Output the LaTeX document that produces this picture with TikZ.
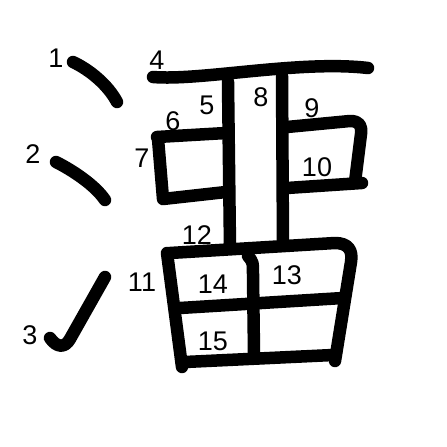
\documentclass[tikz,border=0pt]{standalone}
\usepackage{fontspec}
\setmainfont{Liberation Sans}
\begin{document}
\begin{tikzpicture}[
    x=1pt, y=-1pt,
    stroke/.style={line width=12.5pt, line cap=round, line join=round},
    num/.style={font=\fontsize{27}{27}\selectfont, inner sep=0pt},
]
\useasboundingbox (0,0) rectangle (447,447);

% stroke numbers
\node[num] (n1) at (56,58) {1};
\node[num] (n2) at (33,154) {2};
\node[num] (n3) at (30,335) {3};
\node[num] (n4) at (157,60) {4};
\node[num] (n5) at (207,105) {5};
\node[num] (n6) at (173,121) {6};
\node[num] (n7) at (142,158) {7};
\node[num] (n8) at (261,97) {8};
\node[num] (n9) at (312,108) {9};
\node[num] (n10) at (317,167) {10};
\node[num] (n11) at (142,282) {11};
\node[num] (n12) at (197,235) {12};
\node[num] (n13) at (287,275) {13};
\node[num] (n14) at (213,284) {14};
\node[num] (n15) at (213,341) {15};

% water radical
\draw[stroke] (73,62) .. controls (90,70) and (108,85) .. (117,102);
\draw[stroke] (56,162) .. controls (72,170) and (95,185) .. (105,200);
\draw[stroke] (50,338) .. controls (57,348) and (65,348) .. (70,339) -- (105,277);

% top bar and the two verticals
\draw[stroke] (153,77) .. controls (200,81) and (300,60) .. (368,68);
\draw[stroke] (228,82) -- (230,248);
\draw[stroke] (282,76) -- (283,245);

% left box
\draw[stroke] (157,137) -- (226,133);
\draw[stroke] (158,139) -- (163,199) -- (226,192);

% right box
\draw[stroke] (287,127) -- (350,121) .. controls (360,121) and (362,126) .. (361,134) -- (355,182);
\draw[stroke] (287,188) -- (362,183);

% lower box
\draw[stroke] (167,253) -- (182,367);
\draw[stroke] (170,253) -- (335,243) .. controls (348,243) and (353,250) .. (351,262) -- (335,361);
\draw[stroke] (248,256) .. controls (253,262) .. (253,275) -- (254,353);
\draw[stroke] (180,308) -- (343,298);
\draw[stroke] (185,362) -- (333,355);
\end{tikzpicture}
\end{document}
